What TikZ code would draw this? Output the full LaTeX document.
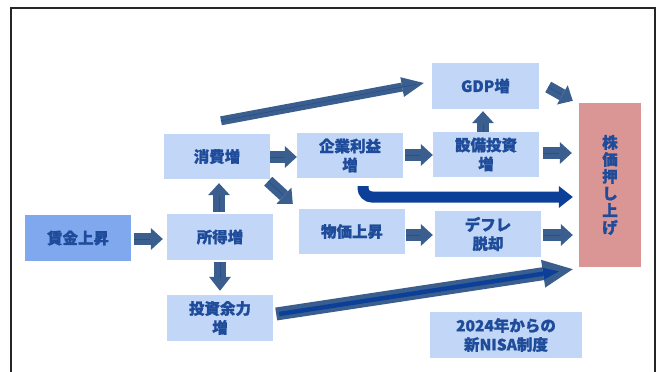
\documentclass[tikz,border=0pt]{standalone}
\usepackage{fontspec}
\setmainfont{Noto Sans CJK JP}[BoldFeatures={FakeBold=1.2}]
\usetikzlibrary{arrows.meta,calc}
\definecolor{boxc}{HTML}{C2D7F7}
\definecolor{wagec}{HTML}{7FA8EF}
\definecolor{stockc}{HTML}{D99694}
\definecolor{txt}{HTML}{1F4C9A}
\definecolor{arr}{HTML}{3A5F8F}
\definecolor{arrin}{HTML}{2A4F8C}
\definecolor{dk}{HTML}{0C3F97}
\newcommand\barr[3][]{\draw[blk,#1] #2 -- #3; \draw[inl] #2 -- #3;}
\begin{document}
\begin{tikzpicture}[x=1pt,y=-1pt,
  bx/.style={fill=boxc, text=txt, minimum width=106pt, minimum height=46pt, inner sep=0pt, align=center, font=\bfseries\fontsize{15.5}{19}\selectfont},
  blk/.style={line width=12pt, color=arr, -{Triangle[length=12pt,width=22pt,line width=0pt]}},
  inl/.style={line width=0.7pt, draw=arrin, shorten >=13pt},
  frame/.style={line width=1.5pt, draw=black!85}
]
\useasboundingbox (0,0) rectangle (659,372);
\draw[frame] (11,372) -- (11,8) -- (655,8) -- (655,372);

\node[bx, fill=wagec] (wage) at (78,238) {賃金上昇};
\node[bx] (inc) at (220,237) {所得増};
\node[bx] (inv) at (220,318) {投資余力\\増};
\node[bx, minimum height=45pt] (cons) at (217,156.5) {消費増};
\node[bx, minimum height=45pt] (prof) at (350,155.5) {企業利益\\増};
\node[bx, minimum height=45pt] (capex) at (486,154.5) {設備投資\\増};
\node[bx, minimum width=107pt] (gdp) at (485.5,86) {GDP増};
\node[bx, minimum height=45pt] (price) at (352,231.5) {物価上昇};
\node[bx] (defl) at (488,234) {デフレ\\脱却};
\node[bx, fill=stockc, minimum width=62pt, minimum height=164pt, font=\bfseries\fontsize{15.5}{17}\selectfont] (stock) at (610,185) {株\\価\\押\\し\\上\\げ};
\node[bx, minimum width=152pt] (nisa) at (506,335) {2024年からの\\新NISA制度};

\barr{($(wage.east)+(3,1)$)}{($(inc.west)+(-4,2)$)}
\barr{($(inc.north)+(-1,-2)$)}{($(cons.south)+(2,4)$)}
\barr[-{Triangle[length=14pt,width=22pt,line width=0pt]}]{($(inc.south)+(0,2)$)}{($(inv.north)+(0,-4)$)}
\barr{($(cons.east)+(0,0.5)$)}{($(prof.west)+(0,1.5)$)}
\barr{($(cons.south east)+(-2,2)$)}{($(price.north west)+(-6,-5)$)}
\barr{($(prof.east)+(2,-0.5)$)}{($(capex.west)+(0,0.5)$)}
\barr{($(capex.north)+(-3,0)$)}{($(gdp.south)+(-2.5,2)$)}
\barr{($(capex.east)+(4,-1.5)$)}{($(stock.west)+(-7,-32)$)}
\barr{($(gdp.east)+(9,1)$)}{($(stock.north west)+(-6,-2)$)}
\barr{($(price.east)+(1,3.5)$)}{($(defl.west)+(-2,1)$)}
\barr{($(defl.east)+(2,1)$)}{($(stock.west)+(-6,50)$)}

% long arrow consumption -> GDP
\draw[line width=9pt, color=arr, -{Triangle[length=22pt,width=20pt,line width=0pt]}] ($(cons.north)+(4,-13)$) -- ($(gdp.west)+(-8,-3)$);
\draw[line width=0.7pt, draw=arrin, shorten >=8pt] ($(cons.north)+(4,-13)$) -- ($(gdp.west)+(-8,-3)$);

% long arrow investment capacity -> stock
\draw[line width=13pt, color=arr, -{Triangle[length=30pt,width=28pt,line width=0pt]}] ($(inv.east)+(3,-4)$) -- ($(stock.south west)+(-6,2)$);
\draw[line width=4.5pt, draw=dk, -{Triangle[length=16pt,width=12pt,line width=0pt]}, shorten >=14pt] ($(inv.east)+(6,-4)$) -- ($(stock.south west)+(-6,2)$);

% bold dark arrow profit -> stock
\draw[line width=11pt, color=dk, rounded corners=9pt, -{Triangle[length=14pt,width=22pt,line width=0pt]}] ($(prof.south)+(13,8)$) |- ($(stock.west)+(-6,12)$);
\end{tikzpicture}
\end{document}
